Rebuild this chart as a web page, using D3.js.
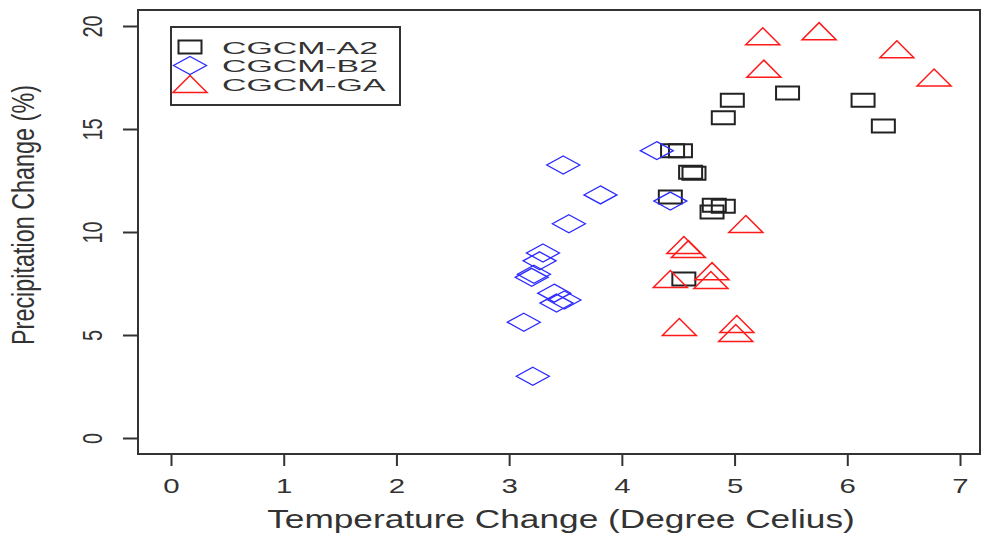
<!DOCTYPE html>
<html>
<head>
<meta charset="utf-8">
<script src="https://cdn.jsdelivr.net/npm/d3@7"></script>
<style>
  body { margin: 0; background: white; }
  svg { display: block; font-family: "Liberation Sans", Arial, sans-serif; }
</style>
</head>
<body>
<div id="vis"></div>
<script>
// series values: [temperature change, precipitation change]
const seriesA2 = [
  [4.45, 13.95], [4.52, 13.95], [4.61, 12.9], [4.64, 12.85], [4.43, 11.7],
  [4.82, 11.3], [4.9, 11.25], [4.8, 10.97], [4.9, 15.55], [4.98, 16.4],
  [5.47, 16.75], [6.14, 16.4], [6.32, 15.15], [4.55, 7.72]
]
const seriesB2 = [
  [4.31, 13.95], [3.48, 13.25], [3.81, 11.8], [4.43, 11.5], [3.53, 10.4],
  [3.3, 8.98], [3.27, 8.6], [3.2, 7.8], [3.22, 7.95], [3.4, 7.03],
  [3.42, 6.55], [3.49, 6.7], [3.13, 5.62], [3.21, 3.0]
]
const seriesGA = [
  [5.25, 19.5], [5.75, 19.75], [6.44, 18.87], [5.26, 17.93], [6.77, 17.5],
  [5.1, 10.39], [4.55, 9.37], [4.59, 9.17], [4.43, 7.72], [4.8, 8.1],
  [4.79, 7.67], [4.51, 5.39], [5.02, 5.53], [5.01, 5.1]
]
const legendLabels = ['CGCM-A2', 'CGCM-B2', 'CGCM-GA']
const xTicks = [0, 1, 2, 3, 4, 5, 6, 7]
const yTicks = [0, 5, 10, 15, 20]

const W = 982, H = 538
const frame = { left: 138, top: 10, right: 980, bottom: 454 }

let svg = d3.select('#vis')
  .append('svg')
  .attr('width', W)
  .attr('height', H)
  .style('background-color', 'white')

let x = d3.scaleLinear().domain([0, 7]).range([171, 960])
let y = d3.scaleLinear().domain([0, 20]).range([438, 26])

// marker shapes (picture is stretched sideways, so markers are wider than tall)
function squarePath(w, h) {
  return `M${-w / 2},${-h / 2}H${w / 2}V${h / 2}H${-w / 2}Z`
}
function diamondPath(w, h) {
  return `M0,${-h / 2}L${w / 2},0L0,${h / 2}L${-w / 2},0Z`
}
function trianglePath(w, h) {
  return `M0,${-h / 2}L${w / 2},${h / 2}H${-w / 2}Z`
}

const styles = [
  { data: seriesA2, path: squarePath(23, 13), color: '#222', sw: 2 },
  { data: seriesB2, path: diamondPath(33, 18), color: '#2b2bff', sw: 1.3 },
  { data: seriesGA, path: trianglePath(34, 17), color: '#ff1a1a', sw: 1.5 }
]

// frame
svg.append('rect')
  .attr('x', frame.left)
  .attr('y', frame.top)
  .attr('width', frame.right - frame.left)
  .attr('height', frame.bottom - frame.top)
  .attr('fill', 'none')
  .attr('stroke', '#333')
  .attr('stroke-width', 2)

// x axis
let xAxis = svg.append('g')
  .attr('transform', `translate(0,${frame.bottom})`)
  .call(d3.axisBottom(x).tickValues(xTicks).tickSize(12).tickPadding(0).tickFormat(d3.format('d')))
xAxis.select('.domain').remove()
xAxis.selectAll('line').attr('stroke', '#333').attr('stroke-width', 2)
xAxis.selectAll('text')
  .attr('y', 0).attr('dy', null)
  .attr('transform', 'translate(0,39) scale(1.4,1)')
  .attr('font-size', 21)
  .attr('fill', '#333')

// y axis
let yAxis = svg.append('g')
  .attr('transform', `translate(${frame.left},0)`)
  .call(d3.axisLeft(y).tickValues(yTicks).tickSize(15).tickFormat(d3.format('d')))
yAxis.select('.domain').remove()
yAxis.selectAll('line').attr('stroke', '#333').attr('stroke-width', 2)
yAxis.selectAll('text')
  .attr('x', 0).attr('dy', null)
  .attr('text-anchor', 'middle')
  .attr('transform', 'translate(-36,0) scale(1.4,1) rotate(-90)')
  .attr('font-size', 20)
  .attr('fill', '#333')

// axis titles
svg.append('text')
  .attr('transform', 'translate(561,528) scale(1.41,1)')
  .attr('text-anchor', 'middle')
  .attr('font-size', 25)
  .attr('fill', '#333')
  .text('Temperature Change (Degree Celius)')

svg.append('text')
  .attr('transform', 'translate(34,215) scale(1.35,1) rotate(-90)')
  .attr('text-anchor', 'middle')
  .attr('font-size', 23.4)
  .attr('fill', '#333')
  .text('Precipitation Change (%)')

// points
styles.forEach(s => {
  svg.append('g')
    .selectAll('path')
    .data(s.data)
    .join('path')
    .attr('d', s.path)
    .attr('transform', d => `translate(${x(d[0])},${y(d[1])})`)
    .attr('fill', 'none')
    .attr('stroke', s.color)
    .attr('stroke-width', s.sw)
})

// legend
let legend = svg.append('g')
legend.append('rect')
  .attr('x', 171).attr('y', 27)
  .attr('width', 229).attr('height', 78)
  .attr('fill', 'white')
  .attr('stroke', '#333')
  .attr('stroke-width', 2)

let rows = legend.selectAll('g.row')
  .data(legendLabels)
  .join('g')
  .attr('class', 'row')
  .attr('transform', (d, i) => `translate(190,${47 + i * 18.5})`)

rows.append('path')
  .attr('d', (d, i) => styles[i].path)
  .attr('fill', 'none')
  .attr('stroke', (d, i) => styles[i].color)
  .attr('stroke-width', (d, i) => styles[i].sw)

rows.append('text')
  .attr('transform', 'translate(32,6.5) scale(2.05,1)')
  .attr('font-size', 16.5)
  .attr('fill', '#333')
  .text(d => d)
</script>
</body>
</html>
